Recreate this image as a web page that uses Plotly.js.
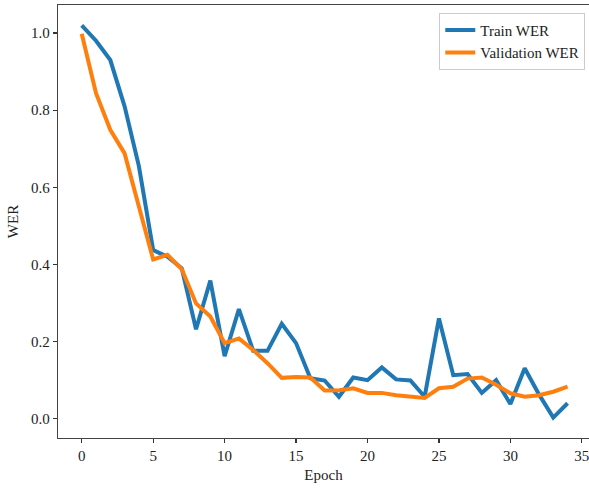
<!DOCTYPE html>
<html>
<head>
<meta charset="utf-8">
<script src="https://cdn.plot.ly/plotly-3.0.1.min.js"></script>
<style>html,body{margin:0;padding:0;background:#fff;}#chart{width:589px;height:488px;}</style>
</head>
<body>
<div id="chart"></div>
<script>
const epochs = [0,1,2,3,4,5,6,7,8,9,10,11,12,13,14,15,16,17,18,19,20,21,22,23,24,25,26,27,28,29,30,31,32,33,34];
const trainWER = [1.02,0.98,0.93,0.81,0.655,0.437,0.42,0.39,0.232,0.358,0.162,0.284,0.176,0.176,0.246,0.196,0.105,0.099,0.057,0.107,0.100,0.133,0.102,0.099,0.057,0.260,0.113,0.116,0.067,0.100,0.038,0.131,0.063,0.003,0.040];
const valWER = [0.998,0.844,0.749,0.688,0.55,0.413,0.425,0.388,0.299,0.265,0.196,0.208,0.178,0.144,0.106,0.108,0.107,0.073,0.074,0.079,0.067,0.067,0.061,0.057,0.054,0.079,0.083,0.104,0.107,0.088,0.066,0.057,0.061,0.070,0.083];
const seriesNames = ["Train WER", "Validation WER"];
const xTicks = [0,5,10,15,20,25,30,35];
const yTicks = [0.0,0.2,0.4,0.6,0.8,1.0];

const fam = "Liberation Serif, Times New Roman, serif";
const txt = {family: fam, size: 15, color: "#222"};
const traces = [
  {x: epochs, y: trainWER, name: seriesNames[0], type: "scatter", mode: "lines",
   line: {color: "#1f77b4", width: 4}},
  {x: epochs, y: valWER, name: seriesNames[1], type: "scatter", mode: "lines",
   line: {color: "#ff7f0e", width: 4}}
];
const layout = {
  width: 589, height: 488,
  margin: {l: 58, r: 0, t: 5, b: 50},
  paper_bgcolor: "#fff", plot_bgcolor: "#fff",
  font: txt,
  showlegend: true,
  legend: {x: 0.993, y: 0.982, xanchor: "right", yanchor: "top",
           bgcolor: "#fff", bordercolor: "#cccccc", borderwidth: 1,
           font: {family: fam, size: 15, color: "#222"}, tracegroupgap: 0},
  xaxis: {range: [-1.66, 35.5], tickvals: xTicks, ticktext: xTicks.map(String),
          showgrid: false, zeroline: false, showline: true, mirror: true,
          linecolor: "#444", linewidth: 1.2, ticks: "outside", ticklen: 4,
          tickcolor: "#333", tickwidth: 1.2, ticklabeloverflow: "allow",
          tickfont: txt, automargin: false,
          title: {text: "Epoch", font: txt, standoff: 6}},
  yaxis: {range: [-0.05, 1.0727], tickvals: yTicks, ticktext: yTicks.map(v => v.toFixed(1)),
          showgrid: false, zeroline: false, showline: true, mirror: false,
          linecolor: "#444", linewidth: 1.2, ticks: "outside", ticklen: 4,
          tickcolor: "#333", tickwidth: 1.2,
          tickfont: txt,
          title: {text: "WER", font: txt, standoff: 8}}
};
Plotly.newPlot("chart", traces, layout, {displayModeBar: false, staticPlot: true});
</script>
</body>
</html>
